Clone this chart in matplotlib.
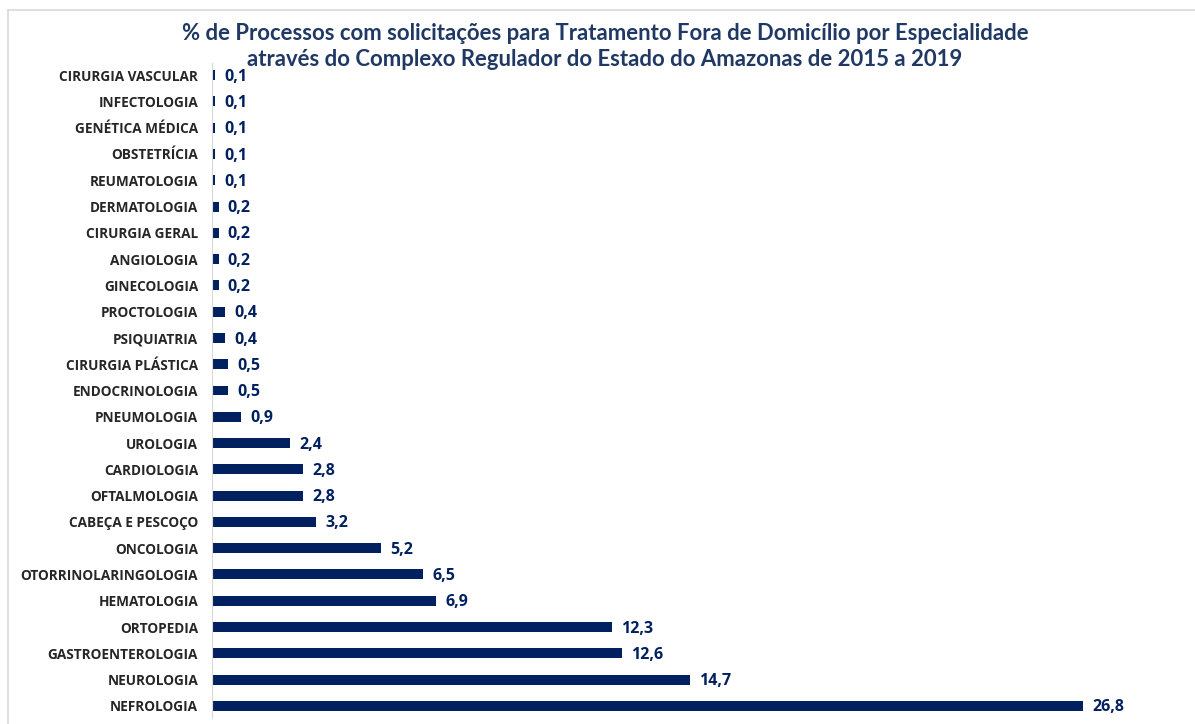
import matplotlib.pyplot as plt
from matplotlib.lines import Line2D

especialidades = [
    "CIRURGIA VASCULAR", "INFECTOLOGIA", "GENÉTICA MÉDICA", "OBSTETRÍCIA",
    "REUMATOLOGIA", "DERMATOLOGIA", "CIRURGIA GERAL", "ANGIOLOGIA",
    "GINECOLOGIA", "PROCTOLOGIA", "PSIQUIATRIA", "CIRURGIA PLÁSTICA",
    "ENDOCRINOLOGIA", "PNEUMOLOGIA", "UROLOGIA", "CARDIOLOGIA",
    "OFTALMOLOGIA", "CABEÇA E PESCOÇO", "ONCOLOGIA", "OTORRINOLARINGOLOGIA",
    "HEMATOLOGIA", "ORTOPEDIA", "GASTROENTEROLOGIA", "NEUROLOGIA", "NEFROLOGIA",
]
percentuais = [
    0.1, 0.1, 0.1, 0.1, 0.1, 0.2, 0.2, 0.2, 0.2, 0.4, 0.4, 0.5, 0.5, 0.9,
    2.4, 2.8, 2.8, 3.2, 5.2, 6.5, 6.9, 12.3, 12.6, 14.7, 26.8,
]

navy = "#002060"
W, H = 1195, 724

fig = plt.figure(figsize=(W / 100, H / 100), dpi=100)
ax = fig.add_axes([212 / W, 1 - 718 / H, (1190 - 212) / W, (718 - 63) / H])

# maior valor embaixo
labels = especialidades[::-1]
vals = percentuais[::-1]
pos = list(range(len(vals)))

ax.barh(pos, vals, height=0.38, color=navy)
for p, v in zip(pos, vals):
    ax.text(v + 0.28, p - 0.06, f"{v:.1f}".replace(".", ","), va="center", ha="left",
            fontsize=11.5, fontweight="bold", color=navy, family="Open Sans")

ax.set_yticks(pos)
ax.set_yticklabels(labels, fontsize=9.8, fontweight="bold", color="#262626", family="Open Sans")
ax.tick_params(axis="y", length=0, pad=10)
ax.set_xticks([])
ax.set_xlim(0, 978 / 32.5)
ax.set_ylim(-0.46, 24.46)
for s in ["top", "right", "bottom"]:
    ax.spines[s].set_visible(False)
ax.spines["left"].set_color("#d9d9d9")

fig.text(605 / W, 1 - 46.5 / H,
         "% de Processos com solicitações para Tratamento Fora de Domicílio por Especialidade\n"
         "através do Complexo Regulador do Estado do Amazonas de 2015 a 2019",
         ha="center", va="center", fontsize=15.9, fontweight="bold", color="#1f3864",
         family=["Lato", "DejaVu Sans"], linespacing=1.3)

# moldura do gráfico
fig.add_artist(Line2D([8 / W, 1], [1 - 10 / H, 1 - 10 / H], color="#d9d9d9", lw=1.2))
fig.add_artist(Line2D([8 / W, 8 / W], [0, 1 - 10 / H], color="#d9d9d9", lw=1.2))

fig.savefig("out.png", dpi=100)
